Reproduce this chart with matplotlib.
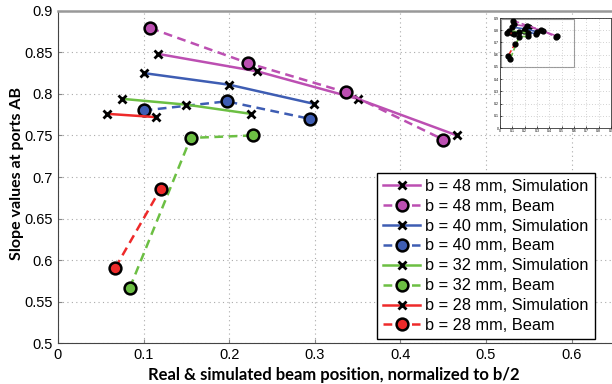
import numpy as np
import matplotlib
matplotlib.use("Agg")
import matplotlib.pyplot as plt
from matplotlib.patches import Rectangle

# b = 48 mm
x48_sim = [0.117, 0.233, 0.350, 0.466]
y48_sim = [0.848, 0.827, 0.794, 0.750]
x48_beam = [0.108, 0.222, 0.336, 0.450]
y48_beam = [0.879, 0.837, 0.802, 0.745]
# b = 40 mm
x40_sim = [0.100, 0.200, 0.299]
y40_sim = [0.825, 0.811, 0.788]
x40_beam = [0.100, 0.197, 0.294]
y40_beam = [0.780, 0.791, 0.770]
# b = 32 mm
x32_sim = [0.075, 0.150, 0.225]
y32_sim = [0.794, 0.787, 0.776]
x32_beam = [0.084, 0.155, 0.228]
y32_beam = [0.567, 0.747, 0.750]
# b = 28 mm
x28_sim = [0.057, 0.115]
y28_sim = [0.776, 0.772]
x28_beam = [0.067, 0.120]
y28_beam = [0.591, 0.686]

labels_b = ["48", "40", "32", "28"]
colors = ["#BC4FB2", "#3E5DB3", "#6CBF43", "#EE2A2A"]
sims = [(x48_sim, y48_sim), (x40_sim, y40_sim), (x32_sim, y32_sim), (x28_sim, y28_sim)]
beams = [(x48_beam, y48_beam), (x40_beam, y40_beam), (x32_beam, y32_beam), (x28_beam, y28_beam)]

plt.rcParams['font.family'] = ['Liberation Sans', 'DejaVu Sans']

fig = plt.figure(figsize=(6.12, 3.84), dpi=100)
# main axes runs past the right edge (the original figure is cropped there)
ax = fig.add_axes([58 / 612, 40.7 / 384, 0.7 * 856 / 612, 332.6 / 384])

for b, c, (xs, ys), (xb, yb) in zip(labels_b, colors, sims, beams):
    ax.plot(xs, ys, '-', color=c, lw=1.8, marker='x', ms=6, mew=2,
            mec='black', label=f"b = {b} mm, Simulation")
    ax.plot(xb, yb, '--', color=c, lw=1.8, dashes=(3.5, 2.2), marker='o', ms=8.5,
            mew=1.8, mec='black', mfc=c, label=f"b = {b} mm, Beam")

ax.set_xlim(0, 0.7)
ax.set_ylim(0.5, 0.9)
ax.set_xticks(np.arange(0, 0.61, 0.1))
ax.set_xticklabels(["0", "0.1", "0.2", "0.3", "0.4", "0.5", "0.6"])
ax.set_yticks(np.arange(0.5, 0.901, 0.05))
ax.set_yticklabels(["0.5", "0.55", "0.6", "0.65", "0.7", "0.75", "0.8", "0.85", "0.9"])
ax.tick_params(direction='in', length=3, labelsize=10.5, color='#888888',
               top=False, right=False)
ax.grid(True, linestyle=(0, (1, 3)), color='#aaaaaa', lw=0.8)
for s in ['left', 'bottom']:
    ax.spines[s].set_color('#444444')
ax.spines['top'].set_color('#999999')
ax.spines['top'].set_linewidth(1.8)
ax.spines['right'].set_visible(False)

ax.set_xlabel("Real & simulated beam position, normalized to b/2",
              family='Lato', weight='bold', fontsize=12)
ax.xaxis.set_label_coords(0.461, -0.072)
ax.set_ylabel("Slope values at ports AB", family='Lato', weight='bold',
              fontsize=11.5)
ax.yaxis.set_label_coords(-0.056, 0.51)

leg = fig.legend(loc='upper left', bbox_to_anchor=(377 / 612, 1 - 173 / 384),
                 fontsize=11.8, frameon=True, fancybox=False, framealpha=1,
                 edgecolor='black', handlelength=2.3, labelspacing=0.3,
                 borderpad=0.35, handletextpad=0.3, borderaxespad=0)
leg.get_frame().set_linewidth(1.0)

# small overview inset
ins = fig.add_axes([500 / 612, 1 - 128 / 384, 111 / 612, 110 / 384])
for c, (xs, ys), (xb, yb) in zip(colors, sims, beams):
    ins.plot(xs, ys, '-', color=c, lw=1.2, marker='o', ms=3.5, mfc='black', mec='black')
    ins.plot(xb, yb, '--', color=c, lw=1.2, marker='o', ms=3.5, mfc='black', mec='black')
ins.add_patch(Rectangle((0.01, 0.5), 0.59, 0.39, fill=False, ec='#999999', lw=0.8))
ins.set_xlim(0, 0.9)
ins.set_ylim(0, 0.9)
ins.set_xticks(np.arange(0, 0.91, 0.1))
ins.set_yticks(np.arange(0, 0.91, 0.1))
ins.set_xticklabels([f"{v:g}" for v in np.round(np.arange(0, 0.91, 0.1), 1)])
ins.set_yticklabels([f"{v:g}" for v in np.round(np.arange(0, 0.91, 0.1), 1)])
ins.tick_params(direction='in', length=1.5, labelsize=2.5, pad=1, width=0.5)
ins.grid(True, linestyle=(0, (1, 3)), color='#aaaaaa', lw=0.5)
for s in ins.spines.values():
    s.set_linewidth(0.6)
    s.set_color('#333333')

fig.savefig("out.png", dpi=100)
